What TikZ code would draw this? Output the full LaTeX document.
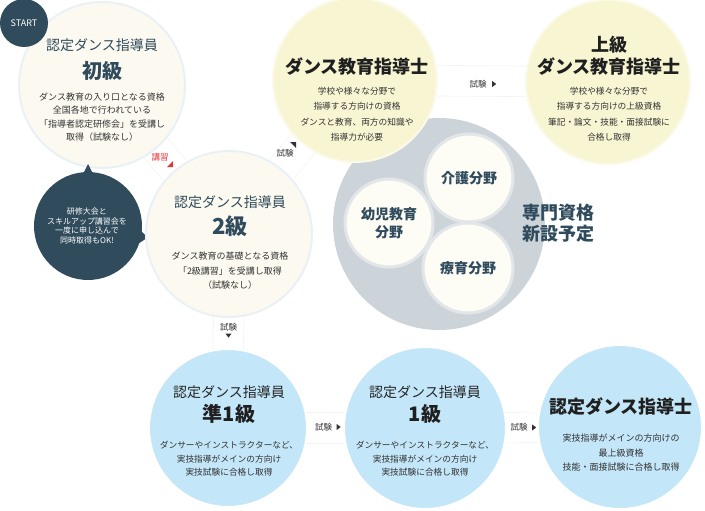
\documentclass[tikz,border=0pt]{standalone}
\usepackage{fontspec}
\setmainfont{Noto Sans CJK JP}
\usetikzlibrary{backgrounds}

% Colores de los circulos y de los textos
\definecolor{crema}{HTML}{FCFAF0}
\definecolor{cremaborde}{HTML}{EAF1F5}
\definecolor{amarillo}{HTML}{F8F5D2}
\definecolor{celeste}{HTML}{C3E6F8}
\definecolor{gris}{HTML}{CDD4D9}
\definecolor{grisborde}{HTML}{E2E6E9}
\definecolor{interior}{HTML}{FDFCF5}
\definecolor{pizarra}{HTML}{2F4B5C}
\definecolor{texto}{HTML}{333333}
\definecolor{rojo}{HTML}{E2343A}

\begin{document}
\begin{tikzpicture}[x=1pt, y=-1pt,
  circulo/.style={circle, inner sep=0pt, minimum size=#1, line width=2pt},
  banda/.style={draw=black!5, line width=0.6pt, double=white, double distance=30pt},
  titulo/.style={font=\fontsize{14}{16}\selectfont, align=center, inner sep=0pt},
  grande/.style={font=\fontsize{#1}{22}\selectfont\bfseries, align=center, inner sep=0pt},
  cuerpo/.style={font=\fontsize{9}{#1}\selectfont, text=texto, align=center, inner sep=0pt},
  etiqueta/.style={font=\fontsize{8.5}{9}\selectfont, text=texto, inner sep=0pt}]
\useasboundingbox (0,0) rectangle (705,511);

% Primer camino: el circulo inicial, START y el globo oscuro
\node[circulo=166pt, fill=crema, draw=cremaborde] (inicial) at (102,85) {};
\node[circulo=48pt, fill=pizarra] (start) at (24,23) {};
\node[font=\fontsize{9}{10}\selectfont, text=white] (starttxt) at (start) {START};
\node[titulo, text=pizarra] (t1) at (102,45) {認定ダンス指導員};
\node[grande=20, text=pizarra] (g1) at (102,71) {初級};
\node[cuerpo=13.5] (c1) at (102,117) {ダンス教育の入り口となる資格\\全国各地で行われている\\「指導者認定研修会」を受講し\\取得（試験なし）};

\node[circulo=108pt, fill=pizarra] (globo) at (88,226) {};
\fill[pizarra] ([yshift=7pt]globo.north) -- ([xshift=-5pt, yshift=-3pt]globo.north) -- ([xshift=5pt, yshift=-3pt]globo.north) -- cycle;
\fill[pizarra] ([xshift=6pt]globo.-12) -- ([xshift=-3pt]globo.-4) -- ([xshift=-3pt]globo.-20) -- cycle;
\node[font=\fontsize{8}{9.8}\selectfont, text=white, align=center] (globotxt) at (87,226) {研修大会と\\スキルアップ講習会を\\一度に申し込んで\\同時取得もOK!};

% Segundo nivel
\node[circulo=166pt, fill=crema, draw=cremaborde] (nikyu) at (229,234) {};
\node[titulo, text=pizarra] (t2) at (230,202) {認定ダンス指導員};
\node[grande=22, text=pizarra] (g2) at (230,226) {2級};
\node[cuerpo=14.5] (c2) at (230,271) {ダンス教育の基礎となる資格\\「2級講習」を受講し取得\\（試験なし）};

% Circulo gris con los tres campos nuevos
\node[circulo=212pt, fill=gris] (gris) at (439,224) {};
\node[circulo=88pt, fill=interior, draw=grisborde, line width=3pt] (kaigo) at (469,178) {};
\node[circulo=88pt, fill=interior, draw=grisborde, line width=3pt] (yoji) at (389,223) {};
\node[circulo=90pt, fill=interior, draw=grisborde, line width=3pt] (ryoiku) at (468,268) {};
\node[grande=14, text=pizarra] (kaigotxt) at (kaigo) {介護分野};
\node[font=\fontsize{14}{18}\selectfont\bfseries, text=pizarra, align=center] (yojitxt) at (yoji) {幼児教育\\分野};
\node[grande=14, text=pizarra] (ryoikutxt) at (ryoiku) {療育分野};
\node[font=\fontsize{18}{21}\selectfont\bfseries, text=pizarra, align=center] (senmon) at (558,223) {専門資格\\新設予定};

% Circulos amarillos de arriba
\node[circulo=164pt, fill=amarillo, draw=white!50!amarillo] (kyoiku) at (355,80) {};
\node[grande=18, text=black!88] (t3) at (357,67) {ダンス教育指導士};
\node[cuerpo=15.5, font=\fontsize{8.7}{15.5}\selectfont] (c3) at (357,114) {学校や様々な分野で\\指導する方向けの資格\\ダンスと教育、両方の知識や\\指導力が必要};

\node[circulo=164pt, fill=amarillo, draw=white!50!amarillo] (jokyu) at (608,82) {};
\node[grande=18, text=black!88] (t4) at (609,56) {上級\\ダンス教育指導士};
\node[cuerpo=15.5, font=\fontsize{8.7}{15.5}\selectfont] (c4) at (609,114) {学校や様々な分野で\\指導する方向けの上級資格\\筆記・論文・技能・面接試験に\\合格し取得};

% Circulos celestes de abajo
\node[circulo=158pt, fill=celeste, draw=white] (jun1) at (228,428) {};
\node[titulo, text=black!85] (t5) at (229,392) {認定ダンス指導員};
\node[grande=20, text=black!88] (g5) at (229,414) {準1級};
\node[cuerpo=13.5, font=\fontsize{8.7}{13.5}\selectfont] (c5) at (229,459) {ダンサーやインストラクターなど、\\実技指導がメインの方向け\\実技試験に合格し取得};

\node[circulo=162pt, fill=celeste, draw=white] (ikkyu) at (425,428) {};
\node[titulo, text=black!85] (t6) at (425,392) {認定ダンス指導員};
\node[grande=20, text=black!88] (g6) at (425,414) {1級};
\node[cuerpo=13.5, font=\fontsize{8.7}{13.5}\selectfont] (c6) at (425,459) {ダンサーやインストラクターなど、\\実技指導がメインの方向け\\実技試験に合格し取得};

\node[circulo=164pt, fill=celeste, draw=white] (shidoshi) at (620,427) {};
\node[grande=18, text=black!88] (t7) at (621,407) {認定ダンス指導士};
\node[cuerpo=14.5] (c7) at (621,453) {実技指導がメインの方向けの\\最上級資格\\技能・面接試験に合格し取得};

% Bandas entre los circulos, por detras
\begin{scope}[on background layer]
\draw[banda] (inicial.center) -- coordinate[midway] (m1) (nikyu.center);
\draw[banda] (nikyu.center) -- coordinate[midway] (m2) (kyoiku.center);
\draw[banda] (kyoiku.center) -- coordinate[midway] (m3) (jokyu.center);
\draw[banda] (nikyu.center) -- coordinate[midway] (m4) (jun1.center);
\draw[banda] (jun1.center) -- coordinate[midway] (m5) (ikkyu.center);
\draw[banda] (ikkyu.center) -- coordinate[midway] (m6) (shidoshi.center);
\end{scope}

% Etiquetas de las bandas con sus flechitas
\node[etiqueta, text=rojo, xshift=-5.5pt, yshift=2.5pt] (koshu) at (m1) {講習};
\fill[rojo] ([xshift=1.5pt, yshift=-7.5pt]m1) -- ++(6pt,0) -- ++(0,6pt) -- cycle;

\node[etiqueta, xshift=-7pt, yshift=4pt] (shiken2) at (m2) {試験};
\fill[texto] ([xshift=-2pt, yshift=15pt]m2) -- ++(6pt,0) -- ++(0,-6pt) -- cycle;

\node[etiqueta, xshift=-3.5pt, yshift=-3pt] (shiken3) at (m3) {試験};
\fill[texto] ([xshift=5.5pt, yshift=3pt]shiken3.east) -- ++(0,-6pt) -- ++(4pt,3pt) -- cycle;

\node[etiqueta, yshift=4pt] (shiken4) at (m4) {試験};
\fill[texto] ([xshift=-3pt, yshift=-2.5pt]shiken4.south) -- ++(6pt,0) -- ++(-3pt,-4pt) -- cycle;

\node[etiqueta, xshift=-3pt, yshift=1pt] (shiken5) at (m5) {試験};
\fill[texto] ([xshift=4.5pt, yshift=3pt]shiken5.east) -- ++(0,-6pt) -- ++(4pt,3pt) -- cycle;

\node[etiqueta, xshift=-3.5pt] (shiken6) at (m6) {試験};
\fill[texto] ([xshift=4.5pt, yshift=3pt]shiken6.east) -- ++(0,-6pt) -- ++(4pt,3pt) -- cycle;
\end{tikzpicture}
\end{document}
